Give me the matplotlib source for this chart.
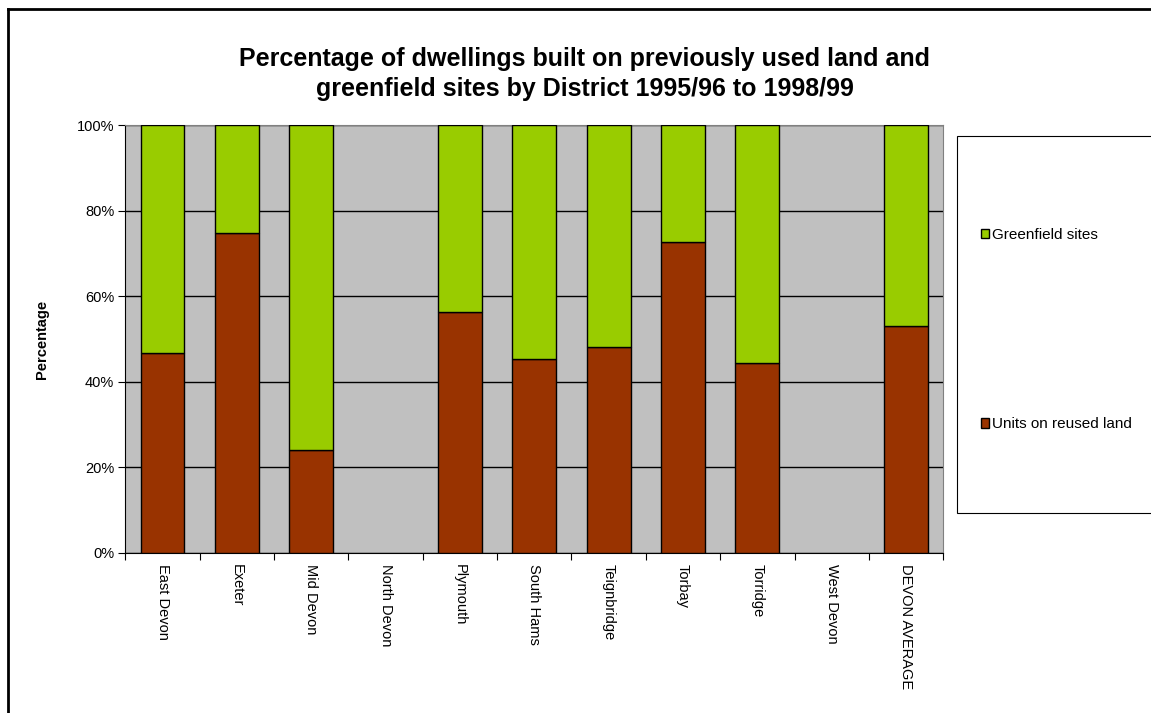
import matplotlib
matplotlib.use("Agg")
import matplotlib.pyplot as plt
from matplotlib.lines import Line2D
from matplotlib.patches import Rectangle
from matplotlib.ticker import PercentFormatter
import numpy as np

plt.rcParams['font.family'] = ['Liberation Sans', 'DejaVu Sans']

districts = ["East Devon", "Exeter", "Mid Devon", "North Devon", "Plymouth",
             "South Hams", "Teignbridge", "Torbay", "Torridge", "West Devon",
             "DEVON AVERAGE"]
# share of units on reused land (%), no data for North Devon / West Devon
reused = [46.7, 74.8, 24.1, 0, 56.4, 45.4, 48.2, 72.7, 44.4, 0, 53.0]
greenfield = [100 - r if r > 0 else 0 for r in reused]

title = "Percentage of dwellings built on previously used land and\ngreenfield sites by District 1995/96 to 1998/99"

fig = plt.figure(figsize=(11.51, 7.13), dpi=100)
ax = fig.add_axes([0.1089, 0.2248, 0.7106, 0.5995])

x = np.arange(len(districts))
lw = [1.0 if r > 0 else 0 for r in reused]   # no outline for empty districts
ax.set_facecolor("#C0C0C0")
ax.bar(x, reused, width=0.59, color="#993300", edgecolor="black", linewidth=lw,
       label="Units on reused land", zorder=3)
ax.bar(x, greenfield, width=0.59, bottom=reused, color="#99CC00", edgecolor="black",
       linewidth=lw, label="Greenfield sites", zorder=3)

ax.set_xlim(-0.5, len(districts) - 0.5)
ax.set_ylim(0, 100)
ax.set_yticks(np.arange(0, 101, 20))
ax.yaxis.set_major_formatter(PercentFormatter(decimals=0))
ax.yaxis.grid(True, color="black", linewidth=1.0, zorder=1)

# ticks on category boundaries, labels at category centres
ax.set_xticks(np.arange(-0.5, len(districts), 1))
ax.set_xticklabels([])
ax.set_xticks(x, minor=True)
ax.set_xticklabels(districts, minor=True, rotation=-90, va="top", ha="center", fontsize=10.5)
ax.tick_params(axis="x", which="minor", length=0, pad=8)
ax.tick_params(axis="x", which="major", length=5, direction="out", color="black")
ax.tick_params(axis="y", length=5, direction="out", color="black", labelsize=10.5, pad=3)

for side in ["top", "right"]:
    ax.spines[side].set_color("#808080")
for side in ["left", "bottom"]:
    ax.spines[side].set_color("black")

ax.set_ylabel("Percentage", fontsize=10.5, fontweight="bold", labelpad=20)
fig.text(0.508, 1 - 47 / 713, title, ha="center", va="top", fontsize=18,
         fontweight="bold", linespacing=1.3)

# legend box running off the right edge
fig.patches.append(Rectangle((957 / 1151, 1 - 513 / 713), 0.3, (513 - 136) / 713,
                             transform=fig.transFigure, facecolor="white",
                             edgecolor="black", linewidth=0.8, clip_on=False))
handles, labels = ax.get_legend_handles_labels()
leg = fig.legend(handles[::-1], labels[::-1], loc="upper left",
                 bbox_to_anchor=(973 / 1151, 1 - 220 / 713), frameon=False,
                 fontsize=11, handlelength=0.55, handleheight=0.55,
                 handletextpad=0.2, labelspacing=11.5, borderpad=0)

# chart border (top and left visible)
fig.add_artist(Line2D([8 / 1151, 1], [1 - 9 / 713, 1 - 9 / 713],
                      transform=fig.transFigure, color="black", linewidth=2))
fig.add_artist(Line2D([8 / 1151, 8 / 1151], [0, 1 - 9 / 713],
                      transform=fig.transFigure, color="black", linewidth=2))

fig.savefig("out.png", dpi=100)
